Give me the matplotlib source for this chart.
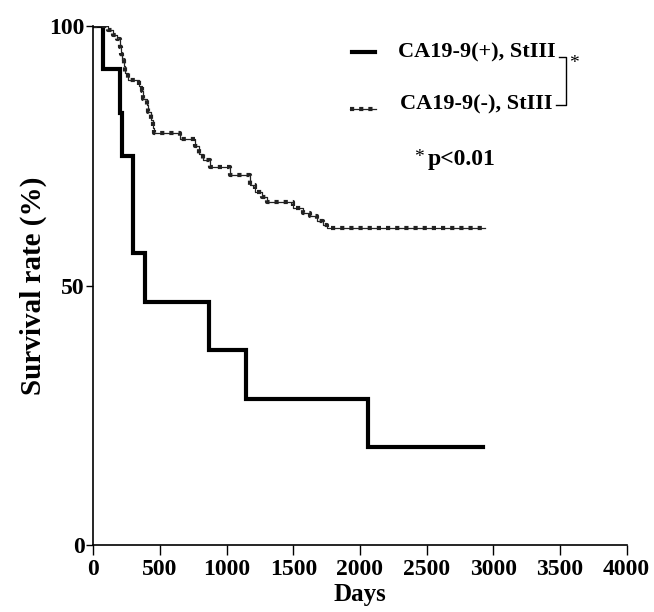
import matplotlib
matplotlib.use("Agg")
import matplotlib.pyplot as plt
from matplotlib.lines import Line2D

# ---- data ----
pos_days = [0, 70, 200, 218, 300, 385, 865, 1145, 2060, 2920]
pos_surv = [100, 91.7, 83.3, 75.0, 56.3, 46.9, 37.5, 28.1, 18.8, 18.8]

neg_days = [0, 110, 150, 175, 200, 208, 215, 230, 240, 263, 340, 363, 375, 400, 413,
            430, 445, 455, 650, 760, 790, 820, 875, 1025, 1175, 1213, 1263, 1300,
            1500, 1575, 1625, 1675, 1720, 1750, 2940]
neg_surv = [100, 99.2, 98.3, 97.4, 96.0, 94.6, 93.4, 92.3, 90.9, 89.6, 88.5, 87.4, 85.9,
            84.7, 83.5, 81.8, 80.4, 79.3, 78.2, 76.8, 75.3, 74.2, 72.9, 71.3, 69.4,
            68.1, 67.1, 66.1, 65.0, 64.0, 63.3, 62.4, 61.6, 61.0, 61.0]

x_ticks = [0, 500, 1000, 1500, 2000, 2500, 3000, 3500, 4000]
y_ticks = [0, 50, 100]
label_pos = "CA19-9(+), StIII"
label_neg = "CA19-9(-), StIII"
sig_text = "p<0.01"

W, H = 654, 612
plt.rcParams['font.family'] = ['Liberation Serif', 'DejaVu Serif']
fig = plt.figure(figsize=(W / 100, H / 100), dpi=100)
ax = fig.add_axes([93.3 / W, 1 - 545 / H, (626.6 - 93.3) / W, (545 - 26) / H])

DASH = (1.0, 1.2)
ax.plot(pos_days, pos_surv, drawstyle='steps-post', color='black', lw=3.0,
        solid_joinstyle='miter')
ax.plot(neg_days, neg_surv, drawstyle='steps-post', color='#222222', lw=0.9)
ax.plot(neg_days, neg_surv, drawstyle='steps-post', color='#222222', lw=3.0,
        dashes=DASH)

ax.set_xlim(0, 4000)
ax.set_ylim(0, 100)
ax.set_xticks(x_ticks)
ax.set_yticks(y_ticks)
for s in ['top', 'right']:
    ax.spines[s].set_visible(False)
for s in ['left', 'bottom']:
    ax.spines[s].set_linewidth(1.2)
ax.tick_params(axis='x', direction='out', length=7, width=1, pad=3)
ax.tick_params(axis='y', direction='out', length=5, width=1, pad=1)
for lab in ax.get_xticklabels() + ax.get_yticklabels():
    lab.set_fontweight('bold')
    lab.set_fontsize(17)
ax.set_xlabel('Days', fontsize=18, fontweight='bold', labelpad=2)
ax.set_ylabel('Survival rate (%)', fontsize=21, fontweight='bold', labelpad=2)

def fx(px):
    return px / W

def fy(py):
    return 1 - py / H

# legend lines
fig.add_artist(Line2D([fx(352), fx(375)], [fy(52), fy(52)], color='black', lw=3))
fig.add_artist(Line2D([fx(350), fx(376)], [fy(109), fy(109)], color='#222222', lw=0.9))
fig.add_artist(Line2D([fx(350), fx(376)], [fy(109), fy(109)], color='#222222', lw=3,
                      dashes=DASH))
fig.text(fx(398), fy(52), label_pos, fontsize=16, fontweight='bold', va='center', ha='left')
fig.text(fx(400), fy(104), label_neg, fontsize=16, fontweight='bold', va='center', ha='left')

# bracket
bx = 566
fig.add_artist(Line2D([fx(559), fx(bx), fx(bx), fx(556)],
                      [fy(57), fy(57), fy(105), fy(105)], color='black', lw=1))
fig.text(fx(569), fy(64), '*', fontsize=14, va='center', ha='left')

fig.text(fx(414), fy(158), '*', fontsize=14, va='center', ha='left')
fig.text(fx(428), fy(160), sig_text, fontsize=17, fontweight='bold', va='center', ha='left')

fig.savefig('out.png', dpi=100)
